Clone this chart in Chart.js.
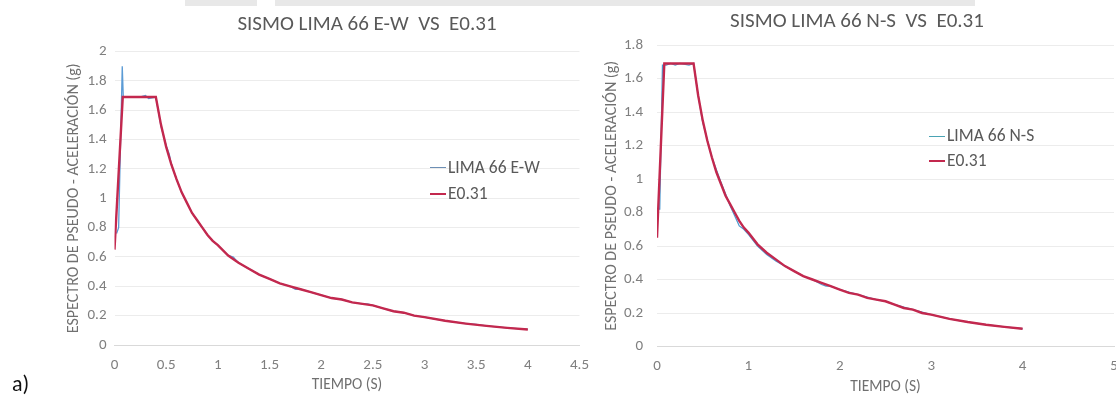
<!DOCTYPE html>
<html>
<head>
<meta charset="utf-8">
<script src="https://cdn.jsdelivr.net/npm/chart.js@4.4.0/dist/chart.umd.min.js"></script>
<style>
html,body{margin:0;padding:0;background:#fff;overflow:hidden;width:1116px;height:403px;}
#wrap{position:relative;width:1116px;height:403px;overflow:hidden;font-family:Carlito,Calibri,Lato,sans-serif;}
.cv{position:absolute;top:0;height:403px;}
.t{position:absolute;white-space:nowrap;line-height:1;}
.title{color:#595959;font-size:21px;transform:translate(-50%,-50%);}
.leg{color:#595959;font-size:17.5px;transform:translateY(-50%);}
.ln{position:absolute;height:0;}
.wm{position:absolute;top:0;height:6px;background:#e8e8e8;}
</style>
</head>
<body>
<div id="wrap">
  <div class="wm" style="left:185px;width:72px;"></div>
  <div class="wm" style="left:275px;width:700px;"></div>
  <div class="cv" style="left:0;width:600px;"><canvas id="cL" width="600" height="403"></canvas></div>
  <div class="cv" style="left:590px;width:540px;"><canvas id="cR" width="540" height="403"></canvas></div>

  <div class="t title" style="left:367px;top:23px;">SISMO LIMA 66 E-W&nbsp; VS&nbsp; E0.31</div>
  <div class="t title" style="left:857px;top:20px;">SISMO LIMA 66 N-S&nbsp; VS&nbsp; E0.31</div>

  <div class="ln" style="left:430px;top:167px;width:16px;border-top:1.5px solid #6d8fb5;"></div>
  <div class="t leg" style="left:448px;top:168px;">LIMA 66 E-W</div>
  <div class="ln" style="left:430px;top:193px;width:16px;border-top:2.5px solid #c3284e;"></div>
  <div class="t leg" style="left:448px;top:194px;">E0.31</div>

  <div class="ln" style="left:929px;top:136px;width:16px;border-top:1.5px solid #4aa3b4;"></div>
  <div class="t leg" style="left:947px;top:136px;">LIMA 66 N-S</div>
  <div class="ln" style="left:929px;top:160px;width:16px;border-top:2.5px solid #c3284e;"></div>
  <div class="t leg" style="left:947px;top:161px;">E0.31</div>

  <div class="t" style="left:12px;top:373px;font-size:22px;color:#111;">a)</div>
</div>
<script>
// ---- data ----
const periodE031 = [0, 0.08, 0.40, 0.45, 0.50, 0.55, 0.60, 0.65, 0.70, 0.75, 0.80, 0.85, 0.90, 0.95, 1.00,
  1.10, 1.20, 1.30, 1.40, 1.50, 1.60, 1.70, 1.80, 1.90, 2.00, 2.10, 2.20, 2.30, 2.40, 2.50,
  2.60, 2.70, 2.80, 2.90, 3.00, 3.20, 3.40, 3.60, 3.80, 4.00];
const saE031 = [0.65, 1.69, 1.69, 1.50, 1.35, 1.23, 1.13, 1.04, 0.97, 0.90, 0.85, 0.80, 0.75, 0.71, 0.68,
  0.61, 0.56, 0.52, 0.48, 0.45, 0.42, 0.40, 0.38, 0.36, 0.34, 0.32, 0.31, 0.29, 0.28, 0.27,
  0.25, 0.23, 0.22, 0.20, 0.19, 0.165, 0.146, 0.13, 0.117, 0.106];

const periodEW = [0.02, 0.04, 0.075, 0.085, 0.15, 0.25, 0.30, 0.33, 0.40, 0.45, 0.50, 0.53, 0.55, 0.60, 0.65,
  0.70, 0.75, 0.80, 0.85, 0.90, 0.95, 1.00, 1.10, 1.15, 1.20, 1.30, 1.40, 1.50, 1.60, 1.70,
  1.75, 1.80, 1.90, 2.00, 2.05, 2.10, 2.20, 2.30, 2.40, 2.45, 2.50, 2.60, 2.70, 2.80, 2.90,
  3.00, 3.20, 3.40, 3.50, 3.60, 3.80, 4.00];
const saEW = [0.76, 0.80, 1.90, 1.69, 1.69, 1.69, 1.70, 1.68, 1.69, 1.49, 1.36, 1.30, 1.23, 1.13, 1.04,
  0.97, 0.90, 0.85, 0.80, 0.75, 0.71, 0.68, 0.61, 0.60, 0.56, 0.52, 0.48, 0.45, 0.42, 0.40,
  0.38, 0.38, 0.36, 0.34, 0.33, 0.32, 0.31, 0.29, 0.28, 0.28, 0.27, 0.25, 0.23, 0.22, 0.20,
  0.19, 0.165, 0.146, 0.14, 0.13, 0.117, 0.106];

const periodNS = [0.01, 0.03, 0.06, 0.10, 0.15, 0.20, 0.25, 0.35, 0.40, 0.45, 0.50, 0.60, 0.70, 0.80, 0.85,
  0.90, 0.95, 1.00, 1.10, 1.20, 1.30, 1.40, 1.50, 1.60, 1.70, 1.80, 1.85, 1.90, 2.00, 2.20,
  2.40, 2.50, 2.60, 2.80, 3.00, 3.20, 3.40, 3.60, 3.80, 4.00];
const saNS = [0.82, 0.82, 1.68, 1.68, 1.69, 1.68, 1.69, 1.68, 1.69, 1.50, 1.34, 1.13, 0.98, 0.84, 0.78,
  0.72, 0.70, 0.67, 0.60, 0.55, 0.51, 0.48, 0.45, 0.42, 0.40, 0.37, 0.36, 0.36, 0.34, 0.31,
  0.28, 0.27, 0.25, 0.22, 0.19, 0.165, 0.146, 0.13, 0.117, 0.106];

const seriesNames = ['LIMA 66 E-W', 'LIMA 66 N-S', 'E0.31'];
const xAxisTitle = 'TIEMPO (S)';
const yAxisTitle = 'ESPECTRO DE PSEUDO - ACELERACIÓN (g)';

// ---- chart construction ----
const toPts = (xs, ys) => xs.map((x, i) => ({x: x, y: ys[i]}));
const fmt = v => String(+Number(v).toFixed(2));
const FONT = 'Carlito, Calibri, Lato, sans-serif';
const tickColor = '#7f7f7f';
const red = '#c3284e';

function makeChart(id, cfg) {
  return new Chart(document.getElementById(id), {
    type: 'scatter',
    data: {
      datasets: [
        {label: cfg.obsName, data: toPts(cfg.obsX, cfg.obsY), showLine: true, borderColor: cfg.obsColor,
         borderWidth: 1.3, pointRadius: 0, tension: 0, order: 1},
        {label: seriesNames[2], data: toPts(periodE031, saE031), showLine: true, borderColor: red,
         borderWidth: 2.4, pointRadius: 0, tension: 0, order: 0}
      ]
    },
    options: {
      responsive: false,
      animation: false,
      events: [],
      layout: {padding: {top: cfg.top, left: 0, right: cfg.padRight, bottom: 0}},
      plugins: {legend: {display: false}, title: {display: false}, tooltip: {enabled: false}},
      scales: {
        x: {
          type: 'linear', min: 0, max: cfg.xMax,
          ticks: {stepSize: cfg.xStep, callback: fmt, color: tickColor, font: {family: FONT, size: 15}, padding: 11, maxRotation: 0},
          grid: {display: false, drawTicks: false},
          border: {display: true, color: '#d9d9d9', width: 1},
          title: {display: true, text: xAxisTitle, color: '#707070', font: {family: FONT, size: 15.5, lineHeight: 1.2}, padding: {top: 0, bottom: cfg.xTitlePad}},
          afterFit: s => { s.height = cfg.xHeight; }
        },
        y: {
          min: 0, max: cfg.yMax,
          ticks: {stepSize: 0.2, callback: fmt, color: tickColor, font: {family: FONT, size: 15}, padding: cfg.yTickPad},
          grid: {color: '#ececec', lineWidth: 1, drawTicks: false},
          border: {display: false},
          title: {display: true, text: yAxisTitle, color: '#707070', font: {family: FONT, size: 16, lineHeight: 1.2}, padding: {top: cfg.yTitlePad, bottom: 0}},
          afterFit: s => { s.width = cfg.yWidth; }
        }
      }
    }
  });
}

makeChart('cL', {obsName: seriesNames[0], obsX: periodEW, obsY: saEW, obsColor: '#5b9bd5',
  top: 51.5, padRight: 20, xMax: 4.5, xStep: 0.5, yMax: 2, xHeight: 58, xTitlePad: 8.7,
  yWidth: 114.5, yTitlePad: 64.4, yTickPad: 8});
makeChart('cR', {obsName: seriesNames[1], obsX: periodNS, obsY: saNS, obsColor: '#4f9ad0',
  top: 45, padRight: 16, xMax: 5, xStep: 1, yMax: 1.8, xHeight: 56.5, xTitlePad: 6.7,
  yWidth: 67, yTitlePad: 12.4, yTickPad: 14});
</script>
</body>
</html>
